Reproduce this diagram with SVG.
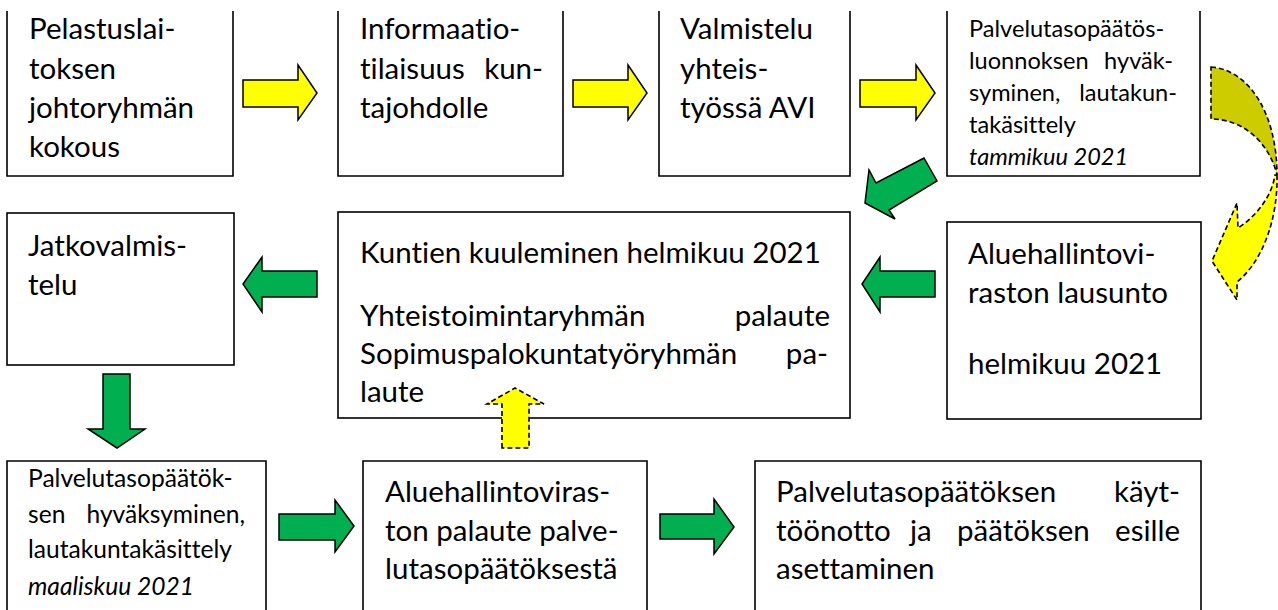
<svg xmlns="http://www.w3.org/2000/svg" width="1278" height="610" viewBox="0 0 1278 610">
<style>
.box{fill:#fff;stroke:#000;stroke-width:1.6}
text{font-family:Lato,"Liberation Sans",sans-serif;fill:#000;font-variant-ligatures:none}
.t{font-size:29.5px}
.s{font-size:23.6px}
.g{font-size:24.6px}
.i{font-style:italic}
.ya{fill:#ffff00;stroke:#000;stroke-width:1.5;stroke-linejoin:miter}
.ga{fill:#00b050;stroke:#000;stroke-width:1.5;stroke-linejoin:miter}
.dash{stroke:#000;stroke-width:1.6;stroke-dasharray:5 3}
</style>
<rect width="1278" height="610" fill="#fff"/>
<g id="n1">
<path class="box" d="M7,11 V176 H233 V11"/>
<text class="t" x="29" y="39">Pelastuslai-</text>
<text class="t" x="29" y="79">toksen</text>
<text class="t" x="29" y="118">johtoryhmän</text>
<text class="t" x="29" y="157">kokous</text>
</g>
<g id="n2">
<path class="box" d="M338,11 V176 H563 V11"/>
<text class="t" x="360" y="39">Informaatio-</text>
<text class="t" x="360" y="79">tilaisuus</text>
<text class="t" x="543" y="79" text-anchor="end">kun-</text>
<text class="t" x="360" y="118">tajohdolle</text>
</g>
<g id="n3">
<path class="box" d="M659,11 V176 H850 V11"/>
<text class="t" x="680" y="39">Valmistelu</text>
<text class="t" x="680" y="79">yhteis-</text>
<text class="t" x="680" y="118">työssä AVI</text>
</g>
<g id="n4">
<path class="box" d="M947,11 V176 H1200 V11"/>
<text class="s" x="969" y="37">Palvelutasopäätös-</text>
<text class="s" x="969" y="69">luonnoksen</text>
<text class="s" x="1173" y="69" text-anchor="end">hyväk-</text>
<text class="s" x="969" y="101">syminen,</text>
<text class="s" x="1177" y="101" text-anchor="end">lautakun-</text>
<text class="s" x="969" y="133">takäsittely</text>
<text class="s i" x="969" y="165">tammikuu 2021</text>
</g>
<g id="n5">
<rect class="box" x="7" y="213" width="227" height="152"/>
<text class="t" x="28" y="256">Jatkovalmis-</text>
<text class="t" x="28" y="295">telu</text>
</g>
<g id="n6">
<rect class="box" x="338" y="212" width="512" height="206"/>
<text class="t" x="360" y="263">Kuntien kuuleminen helmikuu 2021</text>
<text class="t" x="360" y="326">Yhteistoimintaryhmän</text>
<text class="t" x="830" y="326" text-anchor="end">palaute</text>
<text class="t" x="360" y="364">Sopimuspalokuntatyöryhmän</text>
<text class="t" x="828" y="364" text-anchor="end">pa-</text>
<text class="t" x="360" y="402">laute</text>
</g>
<g id="n7">
<rect class="box" x="947" y="222" width="254" height="197"/>
<text class="t" x="968" y="264">Aluehallintovi-</text>
<text class="t" x="968" y="303">raston lausunto</text>
<text class="t" x="968" y="374">helmikuu 2021</text>
</g>
<g id="n8">
<path class="box" d="M7,615 V461 H266 V615"/>
<text class="g" x="28" y="487">Palvelutasopäätök-</text>
<text class="g" x="28" y="523">sen</text>
<text class="g" x="245" y="523" text-anchor="end">hyväksyminen,</text>
<text class="g" x="28" y="558">lautakuntakäsittely</text>
<text class="g i" x="28" y="595">maaliskuu 2021</text>
</g>
<g id="n9">
<path class="box" d="M363,615 V461 H647 V615"/>
<text class="t" x="385" y="502">Aluehallintoviras-</text>
<text class="t" x="385" y="541">ton palaute palve-</text>
<text class="t" x="385" y="579">lutasopäätöksestä</text>
</g>
<g id="n10">
<path class="box" d="M755,615 V461 H1201 V615"/>
<text class="t" x="776" y="502">Palvelutasopäätöksen</text>
<text class="t" x="1180" y="502" text-anchor="end">käyt-</text>
<text class="t" x="776" y="541">töönotto</text>
<text class="t" x="910" y="541">ja</text>
<text class="t" x="957" y="541">päätöksen</text>
<text class="t" x="1180" y="541" text-anchor="end">esille</text>
<text class="t" x="776" y="579">asettaminen</text>
</g>
<g id="connectors">
<polygon class="ya" points="243,80 298,80 298,65 317,93 298,120 298,107 243,107"/>
<polygon class="ya" points="573,80 628,80 628,65 647,93 628,120 628,107 573,107"/>
<polygon class="ya" points="860,80 916,80 916,65 935,93 916,120 916,107 860,107"/>
<polygon class="ga" points="924,158 937,181 889,210 895,219 865,203 869,170 876,183"/>
<polygon class="ga" points="935,271 880,271 880,257 862,284 880,312 880,297 935,297"/>
<polygon class="ga" points="317,271 262,271 262,257 243,284 262,312 262,297 317,297"/>
<polygon class="ga" points="103,374 130,374 130,429 145,429 117,448 88,429 103,429"/>
<polygon class="ga" points="279,514 335,514 335,500 354,526 335,552 335,540 279,540"/>
<polygon class="ga" points="660,514 714,514 714,499 734,527 714,554 714,539 660,539"/>
<polygon class="dash" fill="#ffff00" points="502,448 502,404 487,404 515,388 544,404 529,404 529,448"/>
<path class="dash" fill="#cccc00" d="M1211,67 C1250,70 1277,115 1277,175 C1270,145 1245,119 1211,119 Z"/>
<path class="dash" fill="#ffff00" d="M1277,175 C1278,220 1262,262 1237,282 L1237,300 L1212,261 L1237,203 L1238,228 C1258,215 1272,195 1275,175 Z"/>
</g>
</svg>
